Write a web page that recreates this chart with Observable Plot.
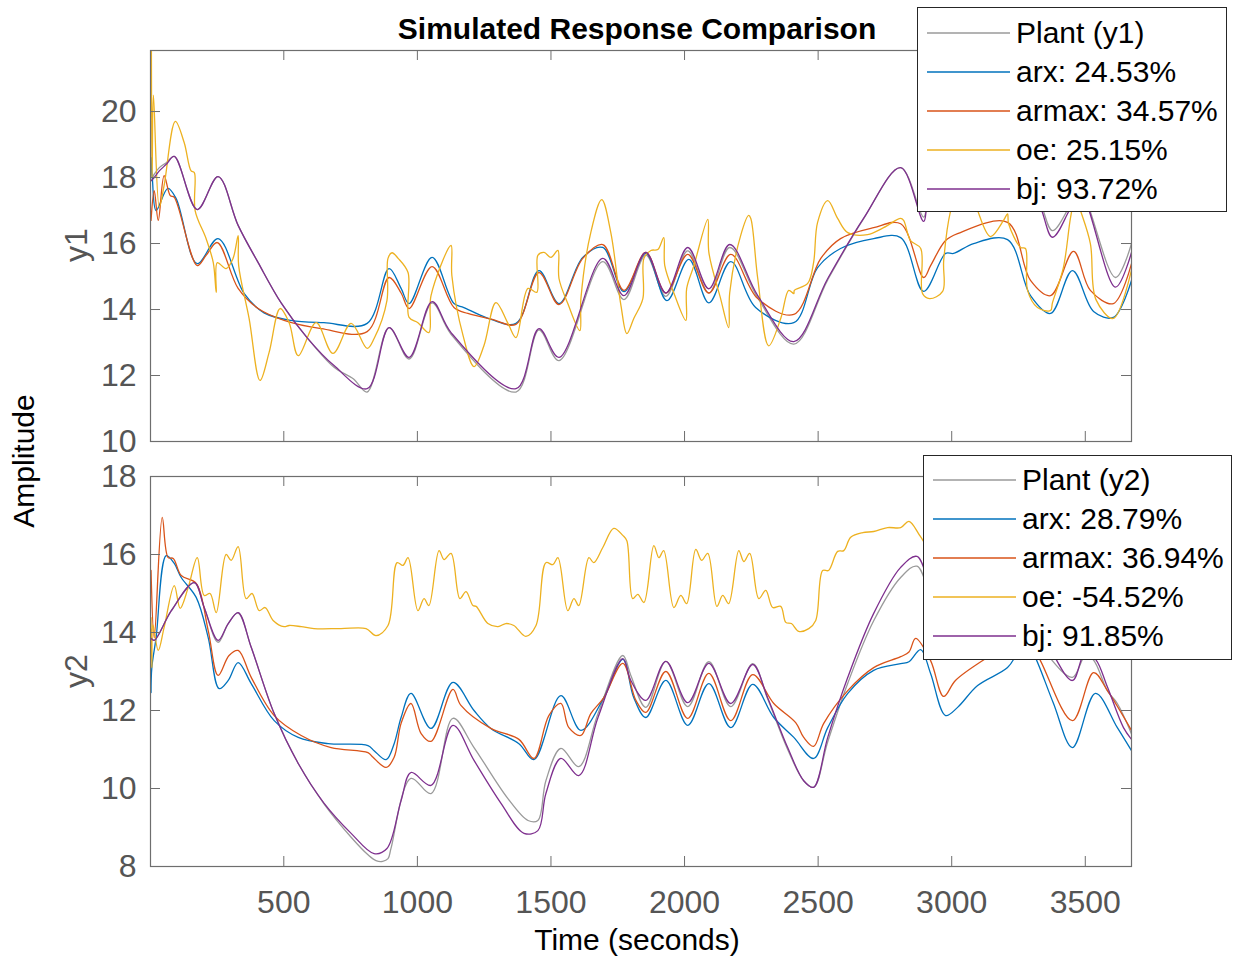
<!DOCTYPE html>
<html><head><meta charset="utf-8">
<script src="https://cdn.jsdelivr.net/npm/d3@7"></script>
<script src="https://cdn.jsdelivr.net/npm/@observablehq/plot@0.6"></script>
<style>
body{margin:0;background:#fff;font-family:"Liberation Sans",Arial,Helvetica,sans-serif;}
#fig{position:relative;width:1238px;height:960px;overflow:hidden;background:#fff;}
.abs{position:absolute;white-space:nowrap;}
.legend{position:absolute;background:#fff;border:1px solid #262626;box-sizing:border-box;}
.legend svg{position:absolute;left:0;top:0;}
.legend .tx{position:absolute;font-size:30px;line-height:30px;color:#000;white-space:nowrap;}
</style></head>
<body><div id="fig"></div>
<script>
// ---------- labels & ticks ----------
const titleText = "Simulated Response Comparison";
const xLabelText = "Time (seconds)";
const yLabelText = "Amplitude";
const panelNames = ["y1", "y2"];
const timeTicks = [500, 1000, 1500, 2000, 2500, 3000, 3500];
const y1Ticks = [10, 12, 14, 16, 18, 20];
const y2Ticks = [8, 10, 12, 14, 16, 18];
const timeDomain = [1, 3673];
const y1Domain = [10, 21.85];
const y2Domain = [8, 18];
const seriesColors = ["#9a9a9a", "#0072BD", "#D95319", "#EDB120", "#7E2F8E"];
const legend1 = ["Plant (y1)", "arx: 24.53%", "armax: 34.57%", "oe: 25.15%", "bj: 93.72%"];
const legend2 = ["Plant (y2)", "arx: 28.79%", "armax: 36.94%", "oe: -54.52%", "bj: 91.85%"];

// ---------- y1 series [time, amplitude] ----------
const y1_plant = [[3,19.7],[8,18.0],[15,18.1],[34,18.3],[60,18.45],[90,18.64],[176,17.03],[254,18.03],[329,16.55],[404,15.42],[490,14.2],[590,13.12],[688,12.25],[760,11.9],[812,11.5],[894,13.45],[969,12.5],[1055,14.2],[1126,13.25],[1369,11.5],[1455,13.38],[1530,12.45],[1694,15.45],[1773,14.3],[1855,15.65],[1930,14.4],[2012,15.78],[2091,14.5],[2169,15.88],[2274,14.35],[2409,12.95],[2536,14.9],[2670,16.75],[2809,18.3],[2895,16.8],[2913,17.3],[3000,18.2],[3120,17.6],[3230,18.0],[3321,17.4],[3377,16.39],[3440,17.1],[3480,17.6],[3613,14.97],[3673,16.0]];
const y1_arx = [[3,18.6],[8,17.97],[22,17.0],[66,17.67],[97,17.36],[176,15.39],[254,16.15],[352,14.48],[426,13.9],[527,13.67],[650,13.6],[812,13.58],[894,15.24],[939,14.64],[969,14.18],[1055,15.58],[1137,14.18],[1174,14.06],[1260,13.75],[1369,13.58],[1455,15.18],[1530,14.18],[1619,15.58],[1694,15.88],[1773,14.54],[1855,15.7],[1934,14.27],[2016,15.52],[2091,14.2],[2173,15.45],[2266,14.06],[2409,13.6],[2498,15.27],[2584,15.85],[2708,16.15],[2809,16.18],[2895,14.55],[2977,15.7],[3007,15.7],[3082,16.0],[3209,16.12],[3295,14.42],[3370,13.88],[3452,15.18],[3531,13.94],[3605,13.76],[3673,14.88]];
const y1_armax = [[3,16.7],[15,17.6],[30,16.7],[52,18.06],[75,17.45],[90,17.4],[176,15.33],[209,15.64],[251,16.03],[329,14.64],[404,14.03],[501,13.67],[640,13.42],[812,13.33],[894,14.97],[939,14.5],[969,14.03],[1055,15.3],[1137,14.06],[1189,13.88],[1280,13.7],[1369,13.55],[1455,15.12],[1530,14.15],[1619,15.55],[1694,15.97],[1773,14.58],[1855,15.73],[1930,14.5],[2012,15.67],[2091,14.5],[2173,15.67],[2274,14.33],[2409,13.85],[2510,15.55],[2584,16.15],[2708,16.48],[2809,16.6],[2895,14.97],[2921,15.33],[2977,16.09],[3022,16.3],[3209,16.64],[3295,14.88],[3370,14.42],[3456,15.76],[3519,14.58],[3605,14.18],[3673,15.39]];
const y1_oe = [[4,23],[7,18.0],[12,20.5],[34,17.1],[52,17.76],[94,19.7],[127,19.06],[153,18.2],[165,18.15],[168,17.0],[209,16.15],[236,15.42],[247,14.52],[251,15.42],[284,15.24],[310,15.55],[329,16.24],[331,15.33],[370,13.73],[411,11.85],[445,12.7],[486,14.03],[520,13.6],[554,12.6],[621,13.6],[684,12.67],[752,13.58],[812,12.82],[838,13.12],[886,14.27],[890,15.55],[905,15.72],[928,15.55],[965,15.12],[969,13.76],[1002,13.6],[1043,13.3],[1051,14.42],[1126,15.94],[1129,15.03],[1171,13.21],[1212,12.27],[1249,12.9],[1294,14.21],[1339,13.58],[1369,13.15],[1414,14.64],[1447,14.52],[1451,15.64],[1474,15.73],[1500,15.58],[1526,15.79],[1530,14.94],[1563,14.18],[1608,13.36],[1612,14.33],[1649,16.33],[1690,17.33],[1724,16.33],[1762,14.12],[1784,13.27],[1810,13.73],[1844,14.33],[1848,15.55],[1874,15.79],[1900,15.82],[1922,16.18],[1926,15.33],[1960,14.5],[2005,13.67],[2008,14.64],[2035,15.33],[2087,16.73],[2091,15.73],[2135,14.33],[2165,13.45],[2169,14.5],[2210,16.24],[2240,16.85],[2248,16.76],[2274,14.94],[2315,12.9],[2360,13.73],[2390,14.58],[2409,14.48],[2411,14.58],[2461,14.79],[2483,15.42],[2498,16.64],[2536,17.3],[2573,16.76],[2611,16.33],[2685,16.27],[2745,16.48],[2809,16.76],[2820,16.7],[2846,16.09],[2884,15.85],[2891,14.48],[2917,14.33],[2966,14.55],[2970,15.48],[2996,17.0],[3030,17.8],[3082,17.4],[3097,17.0],[3145,16.21],[3194,16.7],[3209,16.9],[3213,16.6],[3258,15.88],[3276,15.85],[3284,14.58],[3321,14.06],[3370,13.97],[3377,14.2],[3418,15.27],[3445,16.79],[3463,17.45],[3482,17.0],[3519,16.0],[3540,14.3],[3605,13.73],[3673,15.2]];
const y1_bj = [[3,17.9],[15,18.0],[34,18.2],[60,18.4],[90,18.64],[176,17.03],[254,18.03],[329,16.55],[404,15.42],[490,14.2],[590,13.12],[688,12.3],[812,11.6],[894,13.45],[969,12.55],[1055,14.24],[1126,13.3],[1369,11.6],[1455,13.42],[1530,12.55],[1694,15.55],[1773,14.42],[1855,15.73],[1930,14.5],[2012,15.88],[2091,14.63],[2169,15.97],[2274,14.42],[2409,13.03],[2536,14.94],[2670,16.76],[2809,18.3],[2895,16.67],[2913,17.3],[3000,18.2],[3120,17.6],[3230,18.0],[3321,17.3],[3377,16.19],[3440,17.0],[3480,17.6],[3613,14.68],[3673,15.73]];

// ---------- y2 series [time, amplitude] ----------
const y2_plant = [[3,13.9],[15,13.8],[79,14.56],[165,15.28],[202,14.64],[254,13.75],[292,14.23],[329,14.5],[378,13.62],[464,11.92],[554,10.64],[651,9.6],[752,8.75],[815,8.3],[845,8.15],[870,8.13],[890,8.2],[901,8.46],[976,10.26],[1051,9.87],[1133,11.8],[1212,11.05],[1339,9.74],[1414,9.18],[1451,9.18],[1481,10.2],[1537,11.03],[1604,10.56],[1676,11.92],[1769,13.41],[1799,12.9],[1855,12.08],[1930,13.26],[2012,12.1],[2091,13.25],[2173,12.1],[2255,13.2],[2311,12.3],[2386,11.0],[2446,10.2],[2483,10.03],[2536,11.2],[2611,12.7],[2708,14.3],[2809,15.41],[2870,15.7],[2950,14.6],[3050,15.0],[3150,14.4],[3250,14.6],[3350,13.5],[3452,12.85],[3500,13.4],[3530,13.3],[3583,12.5],[3620,12.18],[3673,11.4]];
const y2_arx = [[3,12.46],[6,13.1],[22,13.87],[60,15.97],[90,15.77],[116,15.41],[172,14.9],[217,13.87],[258,12.56],[292,12.77],[329,13.23],[378,12.69],[464,11.74],[554,11.31],[666,11.15],[815,11.1],[838,10.97],[883,10.74],[913,11.15],[939,11.82],[976,12.44],[1051,11.54],[1133,12.72],[1212,12.0],[1275,11.54],[1380,11.15],[1436,10.74],[1537,12.38],[1612,11.49],[1698,12.33],[1769,13.31],[1810,12.33],[1855,11.82],[1930,12.77],[2012,11.62],[2091,12.69],[2173,11.56],[2255,12.67],[2334,11.82],[2409,11.31],[2483,10.77],[2536,11.56],[2611,12.44],[2708,13.03],[2809,13.2],[2840,13.25],[2884,13.56],[2921,12.95],[2977,11.87],[3022,12.08],[3097,12.64],[3209,13.1],[3246,13.46],[3280,13.7],[3306,13.46],[3380,12.2],[3452,11.05],[3538,12.44],[3620,11.56],[3673,10.97]];
const y2_armax = [[3,15.59],[15,13.87],[45,16.95],[67,15.92],[86,15.9],[116,15.46],[172,15.26],[217,14.05],[254,12.9],[295,13.41],[329,13.54],[378,12.85],[464,11.87],[565,11.36],[677,11.05],[815,10.92],[834,10.8],[883,10.54],[913,10.8],[939,11.67],[976,12.18],[1014,11.41],[1051,11.21],[1133,12.54],[1163,12.13],[1275,11.54],[1380,11.26],[1436,10.77],[1492,11.87],[1537,12.18],[1567,11.56],[1612,11.36],[1649,11.92],[1698,12.33],[1769,13.21],[1818,12.26],[1855,11.95],[1930,13.0],[2012,11.8],[2091,12.95],[2173,11.74],[2255,12.92],[2334,12.18],[2416,11.69],[2446,11.31],[2483,11.08],[2521,11.67],[2611,12.51],[2708,13.1],[2809,13.38],[2840,13.5],[2865,13.85],[2921,13.28],[2970,12.36],[3014,12.77],[3134,13.36],[3220,13.7],[3290,13.8],[3332,13.28],[3452,11.74],[3531,12.97],[3583,12.51],[3673,11.49]];
const y2_oe = [[3,14.38],[6,13.1],[10,14.2],[30,13.54],[52,14.13],[90,15.2],[112,14.62],[142,15.15],[176,15.92],[202,14.95],[224,15.0],[247,14.51],[284,16.0],[303,15.85],[329,16.2],[359,14.87],[381,15.0],[408,14.56],[430,14.64],[460,14.31],[501,14.15],[520,14.18],[565,14.15],[613,14.1],[714,14.1],[808,14.1],[845,13.92],[890,14.18],[924,15.79],[946,15.72],[965,15.92],[1002,14.56],[1025,14.87],[1043,14.69],[1081,16.1],[1100,15.87],[1126,16.03],[1159,14.87],[1182,15.05],[1208,14.69],[1220,14.67],[1264,14.23],[1302,14.15],[1331,14.23],[1361,14.18],[1406,13.9],[1444,14.18],[1481,15.79],[1507,15.74],[1526,15.92],[1563,14.56],[1586,14.87],[1604,14.69],[1642,15.92],[1660,15.79],[1694,16.18],[1735,16.67],[1769,16.49],[1784,16.35],[1806,14.87],[1825,14.98],[1848,14.77],[1885,16.23],[1904,15.92],[1922,16.1],[1960,14.64],[1986,14.95],[2008,14.74],[2042,16.13],[2064,15.85],[2087,16.03],[2121,14.67],[2143,14.95],[2165,14.74],[2203,16.1],[2222,15.82],[2244,16.03],[2278,14.87],[2304,15.08],[2330,14.64],[2360,14.67],[2379,14.26],[2400,14.23],[2427,14.03],[2465,14.1],[2491,14.31],[2517,15.59],[2539,15.59],[2573,16.08],[2596,16.1],[2622,16.44],[2667,16.56],[2708,16.59],[2760,16.69],[2809,16.69],[2840,16.85],[2884,16.45],[2950,15.8],[3050,16.0],[3150,15.5],[3250,15.8],[3350,15.2],[3450,15.6],[3550,14.8],[3673,15.0]];
const y2_bj = [[3,13.85],[15,13.8],[79,14.56],[165,15.28],[202,14.64],[254,13.8],[292,14.23],[329,14.51],[378,13.62],[464,11.92],[554,10.64],[651,9.62],[752,8.85],[838,8.33],[886,8.46],[939,9.69],[976,10.41],[1051,10.08],[1133,11.62],[1212,10.72],[1313,9.62],[1399,8.85],[1451,8.92],[1481,9.87],[1537,10.77],[1604,10.33],[1676,11.82],[1769,13.33],[1799,12.77],[1855,12.26],[1930,13.26],[2012,12.2],[2091,13.21],[2173,12.18],[2255,13.18],[2311,12.33],[2386,11.05],[2446,10.2],[2483,10.03],[2536,11.31],[2611,12.85],[2708,14.49],[2809,15.67],[2870,15.95],[2950,14.8],[3050,15.3],[3150,14.6],[3250,14.8],[3350,13.8],[3452,12.77],[3500,13.5],[3540,13.3],[3583,12.6],[3643,11.56],[3673,11.26]];

const panel1Series = [y1_plant, y1_arx, y1_armax, y1_oe, y1_bj];
const panel2Series = [y2_plant, y2_arx, y2_armax, y2_oe, y2_bj];

// ---------- drawing ----------
const FONT = '"Liberation Sans", Arial, Helvetica, sans-serif';
const W = 1238, ML = 150, MR = 107;
const plotW = W - ML - MR;
const fig = document.getElementById("fig");

function panel({series, yDomain, yTicks, height, mt, mb, showX}) {
  const plotH = height - mt - mb;
  const marks = [];
  series.forEach((pairs, i) => {
    marks.push(Plot.line(pairs.map(([t, v]) => ({t, v})), {
      x: "t", y: "v", stroke: seriesColors[i], strokeWidth: 1.3,
      curve: "catmull-rom", clip: true
    }));
  });
  const tickColor = "#6e6e6e";
  // inner ticks on all four sides (MATLAB box style)
  marks.push(Plot.tickX(timeTicks, {x: d => d, stroke: tickColor, insetTop: plotH - 10}));
  marks.push(Plot.tickX(timeTicks, {x: d => d, stroke: tickColor, insetBottom: plotH - 10}));
  marks.push(Plot.tickY(yTicks, {y: d => d, stroke: tickColor, insetRight: plotW - 10}));
  marks.push(Plot.tickY(yTicks, {y: d => d, stroke: tickColor, insetLeft: plotW - 10}));
  marks.push(Plot.frame({stroke: tickColor, strokeWidth: 1.2}));
  marks.push(Plot.axisY(yTicks, {tickSize: 0, tickPadding: 14, label: null, fontSize: 32, fill: "#555", tickFormat: d => String(d)}));
  if (showX) marks.push(Plot.axisX(timeTicks, {tickSize: 0, tickPadding: 24, label: null, fontSize: 32, fill: "#555", tickFormat: d => String(d)}));
  return Plot.plot({
    width: W, height, marginLeft: ML, marginRight: MR, marginTop: mt, marginBottom: mb,
    x: {domain: timeDomain, axis: showX ? undefined : null},
    y: {domain: yDomain},
    style: {fontFamily: FONT, background: "transparent", overflow: "visible"},
    marks
  });
}

const p1 = panel({series: panel1Series, yDomain: y1Domain, yTicks: y1Ticks, height: 450, mt: 50, mb: 9, showX: false});
p1.style.position = "absolute"; p1.style.left = "0px"; p1.style.top = "0px";
fig.appendChild(p1);
const p2 = panel({series: panel2Series, yDomain: y2Domain, yTicks: y2Ticks, height: 510, mt: 26, mb: 94, showX: true});
p2.style.position = "absolute"; p2.style.left = "0px"; p2.style.top = "450px";
fig.appendChild(p2);

function addText(text, css) {
  const d = document.createElement("div");
  d.className = "abs";
  d.textContent = text;
  Object.assign(d.style, css);
  fig.appendChild(d);
  return d;
}
addText(titleText, {left: "237px", width: "800px", textAlign: "center", top: "14px", fontSize: "30px", lineHeight: "30px", fontWeight: "bold", color: "#000"});
addText(xLabelText, {left: "337px", width: "600px", textAlign: "center", top: "925px", fontSize: "30px", lineHeight: "30px", color: "#000"});
addText(yLabelText, {left: "24px", top: "461px", fontSize: "30px", lineHeight: "30px", color: "#000", transform: "translate(-50%,-50%) rotate(-90deg)"});
addText(panelNames[0], {left: "76px", top: "245px", fontSize: "32px", lineHeight: "32px", color: "#555", transform: "translate(-50%,-50%) rotate(-90deg)"});
addText(panelNames[1], {left: "76px", top: "671px", fontSize: "32px", lineHeight: "32px", color: "#555", transform: "translate(-50%,-50%) rotate(-90deg)"});

const SVGNS = "http://www.w3.org/2000/svg";
function addLegend(labels, box) {
  const lg = document.createElement("div");
  lg.className = "legend";
  Object.assign(lg.style, {left: box.x + "px", top: box.y + "px", width: box.w + "px", height: box.h + "px"});
  const svg = document.createElementNS(SVGNS, "svg");
  svg.setAttribute("width", box.w);
  svg.setAttribute("height", box.h);
  lg.appendChild(svg);
  labels.forEach((lab, i) => {
    const cy = box.row0 + i * box.dy;
    const ln = document.createElementNS(SVGNS, "line");
    ln.setAttribute("x1", box.lx); ln.setAttribute("x2", box.lx + box.lw);
    ln.setAttribute("y1", cy); ln.setAttribute("y2", cy);
    ln.setAttribute("stroke", seriesColors[i]);
    ln.setAttribute("stroke-width", "1.3");
    svg.appendChild(ln);
    const tx = document.createElement("div");
    tx.className = "tx";
    tx.textContent = lab;
    Object.assign(tx.style, {left: box.tx + "px", top: (cy - 15) + "px"});
    lg.appendChild(tx);
  });
  fig.appendChild(lg);
}
addLegend(legend1, {x: 917, y: 7, w: 310, h: 205, row0: 25, dy: 39, lx: 9, lw: 83, tx: 98});
addLegend(legend2, {x: 923, y: 455, w: 309, h: 205, row0: 24, dy: 39, lx: 9, lw: 83, tx: 98});
</script>
</body></html>
